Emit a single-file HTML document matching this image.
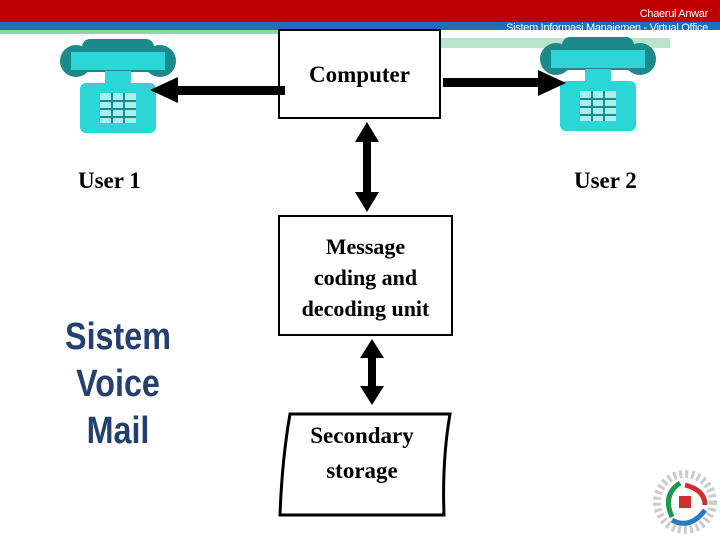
<!DOCTYPE html>
<html><head><style>
body{margin:0;width:720px;height:540px;background:#fff;position:relative;overflow:hidden;font-family:"Liberation Serif",serif}
.t{position:absolute;white-space:nowrap}
</style></head><body>
<div style="position:absolute;left:0;top:0;width:720px;height:22px;background:#c00000"></div>
<div style="position:absolute;left:0;top:22px;width:720px;height:8px;background:#1f6fb5"></div>
<div style="position:absolute;left:0;top:30px;width:440px;height:4px;background:#8fd3b0"></div>
<div style="position:absolute;left:440px;top:38px;width:230px;height:10px;background:#b9e4c9"></div>
<div class="t" style="right:12px;top:8px;font:11px 'Liberation Sans',sans-serif;color:#fff;letter-spacing:-0.3px">Chaerul Anwar</div>
<div class="t" style="right:12px;top:22px;font:11px 'Liberation Sans',sans-serif;color:#fff;letter-spacing:-0.3px">Sistem Informasi Manajemen - Virtual Office</div>
<svg width="720" height="540" style="position:absolute;left:0;top:0">
<defs>
<g id="ph">
<rect x="22" y="0" width="72" height="22" rx="8" fill="#1a8a8a"/>
<circle cx="16" cy="22" r="16" fill="#1a8a8a"/><circle cx="100" cy="22" r="16" fill="#1a8a8a"/>
<rect x="10" y="12" width="96" height="20" fill="#2dd6d6" stroke="#1a8a8a" stroke-width="2"/>
<rect x="45" y="32" width="26" height="12" fill="#2dd6d6"/>
<rect x="20" y="44" width="76" height="50" rx="6" fill="#2dd6d6"/>
<g fill="#a8f0f0"><rect x="40" y="54" width="36" height="30"/></g>
<g stroke="#1a8a8a" stroke-width="2"><line x1="52" y1="54" x2="52" y2="84"/><line x1="64" y1="54" x2="64" y2="84"/><line x1="40" y1="62" x2="76" y2="62"/><line x1="40" y1="70" x2="76" y2="70"/><line x1="40" y1="78" x2="76" y2="78"/></g>
</g>
</defs>
<use href="#ph" x="60" y="39"/>
<use href="#ph" x="540" y="37"/>
<rect x="279" y="30" width="161" height="88" fill="#fff" stroke="#000" stroke-width="2"/>
<rect x="279" y="216" width="173" height="119" fill="#fff" stroke="#000" stroke-width="2"/>
<path d="M290 414 L450 414 Q442 460 444 515 L280 515 Q282 460 290 414 Z" fill="#fff" stroke="#000" stroke-width="3"/>
<g fill="#000">
<rect x="175" y="86" width="110" height="9"/><polygon points="150,90 178,77 178,103"/>
<rect x="443" y="78" width="100" height="9"/><polygon points="566,83 538,70 538,96"/>
<rect x="363" y="140" width="8" height="55"/><polygon points="367,122 355,142 379,142"/><polygon points="367,212 355,192 379,192"/>
<rect x="368" y="355" width="8" height="35"/><polygon points="372,339 360,358 384,358"/><polygon points="372,405 360,386 384,386"/>
</g>
</svg>
<div class="t" style="left:279px;top:62px;width:161px;text-align:center;font-size:23px;font-weight:bold">Computer</div>
<div class="t" style="left:279px;top:231px;width:173px;text-align:center;font-size:22px;font-weight:bold;line-height:31px">Message<br>coding and<br>decoding unit</div>
<div class="t" style="left:282px;top:418px;width:160px;text-align:center;font-size:23px;font-weight:bold;line-height:35px">Secondary<br>storage</div>
<div class="t" style="left:78px;top:168px;font-size:23px;font-weight:bold">User 1</div>
<div class="t" style="left:574px;top:168px;font-size:23px;font-weight:bold">User 2</div>
<div class="t" style="left:48px;top:314px;width:140px;text-align:center;font:bold 38px/47px 'Liberation Sans',sans-serif;color:#24406e;transform:scaleX(0.85)">Sistem<br>Voice<br>Mail</div>
<svg width="70" height="75" style="position:absolute;left:650px;top:465px">
<circle cx="35" cy="37" r="28" fill="none" stroke="#ccc" stroke-width="8" stroke-dasharray="3 3"/>
<path d="M30 18 Q12 30 22 52" stroke="#1a9a4a" stroke-width="5" fill="none"/>
<path d="M22 55 Q40 65 55 45" stroke="#2a7ac0" stroke-width="5" fill="none"/>
<path d="M35 20 Q55 25 55 40" stroke="#d03030" stroke-width="5" fill="none"/>
<rect x="29" y="31" width="12" height="12" fill="#d03030"/>
</svg>
</body></html>
